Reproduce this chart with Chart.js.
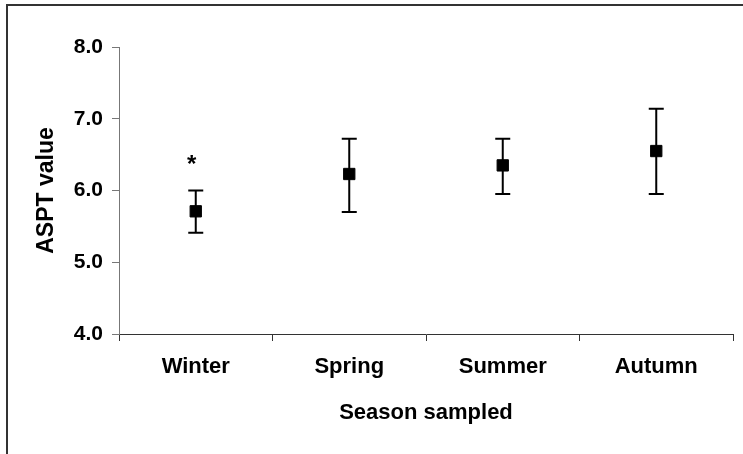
<!DOCTYPE html>
<html>
<head>
<meta charset="utf-8">
<script src="https://cdn.jsdelivr.net/npm/chart.js@4"></script>
<style>
  html, body { margin: 0; padding: 0; background: #fff; }
  #wrap { position: relative; width: 743px; height: 454px; overflow: hidden; }
  #frame {
    position: absolute; left: 6px; top: 4px; right: -10px; bottom: -10px;
    border-top: 2px solid #333; border-left: 2px solid #333;
  }
  #chart { position: absolute; left: 0; top: 0; }
</style>
</head>
<body>
<div id="wrap">
  <div id="frame"></div>
  <canvas id="chart" width="743" height="454"></canvas>
</div>
<script>
  // mean ASPT per season with lower / upper error limits
  const seasons = ["Winter", "Spring", "Summer", "Autumn"];
  const aspt = [5.71, 6.23, 6.35, 6.55];
  const lower = [5.41, 5.70, 5.95, 5.95];
  const upper = [6.00, 6.72, 6.72, 7.14];
  const marks = ["*", "", "", ""];
  const yTicks = [4, 5, 6, 7, 8];

  const BOLD = "'Liberation Sans', Arial, sans-serif";

  // whiskers with caps + significance marks
  const errorBars = {
    id: "errorBars",
    beforeDatasetsDraw(chart) {
      const ctx = chart.ctx;
      const x = chart.scales.x;
      const y = chart.scales.y;
      ctx.save();
      ctx.strokeStyle = "#000";
      ctx.lineWidth = 2;
      seasons.forEach(function(s, i) {
        const px = x.getPixelForValue(i);
        const top = y.getPixelForValue(upper[i]);
        const bot = y.getPixelForValue(lower[i]);
        ctx.beginPath();
        ctx.moveTo(px, top);
        ctx.lineTo(px, bot);
        ctx.moveTo(px - 7.5, top);
        ctx.lineTo(px + 7.5, top);
        ctx.moveTo(px - 7.5, bot);
        ctx.lineTo(px + 7.5, bot);
        ctx.stroke();
        if (marks[i]) {
          ctx.fillStyle = "#000";
          ctx.font = "bold 24px " + BOLD;
          ctx.textAlign = "center";
          ctx.textBaseline = "alphabetic";
          ctx.fillText(marks[i], px - 4, top - 19);
        }
      });
      ctx.restore();
    }
  };

  new Chart(document.getElementById("chart"), {
    type: "line",
    data: {
      labels: seasons,
      datasets: [{
        data: aspt,
        showLine: false,
        pointStyle: "rect",
        pointRadius: 8,
        pointHoverRadius: 8,
        pointBackgroundColor: "#000",
        pointBorderColor: "#000",
        pointBorderWidth: 1
      }]
    },
    options: {
      responsive: false,
      animation: false,
      devicePixelRatio: 1,
      layout: { padding: { top: 47, right: 10, bottom: 0, left: 0 } },
      plugins: { legend: { display: false }, tooltip: { enabled: false } },
      scales: {
        x: {
          offset: true,
          grid: { offset: true, drawOnChartArea: false, tickLength: 7, color: "#333" },
          border: { color: "#333", width: 1 },
          ticks: { color: "#000", padding: 13, font: { family: BOLD, size: 22, weight: "bold" } },
          title: {
            display: true,
            text: "Season sampled",
            color: "#000",
            font: { family: BOLD, size: 22, weight: "bold" },
            padding: { top: 0, bottom: 28 }
          },
          afterFit(scale) {
            scale.height = 120;
            scale.paddingLeft = 0;
            scale.paddingRight = 0;
          }
        },
        y: {
          min: 4,
          max: 8,
          afterBuildTicks(scale) {
            scale.ticks = yTicks.map(function(v) { return { value: v }; });
          },
          grid: { drawOnChartArea: false, tickLength: 7, color: "#777" },
          border: { color: "#777", width: 1 },
          ticks: {
            color: "#000",
            padding: 9,
            font: { family: BOLD, size: 21, weight: "bold" },
            callback: function(v) { return Number(v).toFixed(1); }
          },
          title: {
            display: true,
            text: "ASPT value",
            color: "#000",
            font: { family: BOLD, size: 23, weight: "bold" },
            padding: { top: 33, bottom: 0 }
          },
          afterFit(scale) {
            scale.width = 119;
            scale.paddingTop = 0;
            scale.paddingBottom = 0;
          }
        }
      }
    },
    plugins: [errorBars]
  });
</script>
</body>
</html>
